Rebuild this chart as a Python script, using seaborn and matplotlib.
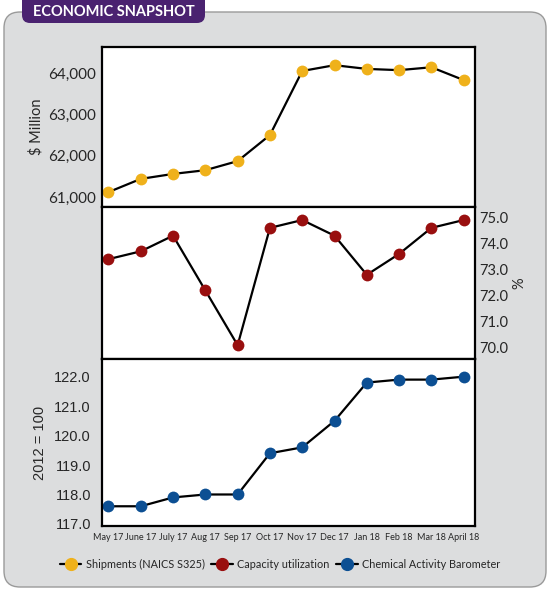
import numpy as np
import matplotlib
matplotlib.use("Agg")
import matplotlib.pyplot as plt
import matplotlib.patches as mpatches
from matplotlib.lines import Line2D
from matplotlib.ticker import FuncFormatter
import seaborn as sns

sns.set_style("white")
plt.rcParams['font.family'] = ['Lato', 'DejaVu Sans']

# data
months = ["May 17", "June 17", "July 17", "Aug 17", "Sep 17", "Oct 17",
          "Nov 17", "Dec 17", "Jan 18", "Feb 18", "Mar 18", "April 18"]
shipments = [61120, 61440, 61560, 61650, 61870, 62500,
             64050, 64190, 64100, 64070, 64140, 63830]
capacity = [73.4, 73.7, 74.3, 72.2, 70.1, 74.6,
            74.9, 74.3, 72.8, 73.6, 74.6, 74.9]
cab = [117.6, 117.6, 117.9, 118.0, 118.0, 119.4,
       119.6, 120.5, 121.8, 121.9, 121.9, 122.0]
ship_ticks = [61000, 62000, 63000, 64000]
cap_ticks = [70.0, 71.0, 72.0, 73.0, 74.0, 75.0]
cab_ticks = [117.0, 118.0, 119.0, 120.0, 121.0, 122.0]

YELLOW = "#EFB11B"
RED = "#990F0F"
BLUE = "#0C4F93"
PURPLE = "#4A2270"
GRAY = "#DCDDDE"

W, H = 550, 590
fig = plt.figure(figsize=(W / 100, H / 100), dpi=100)
fig.patch.set_facecolor("white")

# rounded gray panel (behind the axes)
box = mpatches.FancyBboxPatch((0.04, 0.03), 5.42, 5.75,
                              boxstyle="round,pad=0,rounding_size=0.16",
                              transform=fig.dpi_scale_trans, zorder=-10,
                              facecolor=GRAY, edgecolor="#9a9a9a", linewidth=1.0)
fig.patches.append(box)
# header tab
tab = mpatches.FancyBboxPatch((0.22, 5.67), 1.83, 0.35,
                              boxstyle="round,pad=0,rounding_size=0.08",
                              transform=fig.dpi_scale_trans, zorder=-5,
                              facecolor=PURPLE, edgecolor="none")
fig.patches.append(tab)
fig.text(1.135 / 5.5, 1 - 11.5 / H, "ECONOMIC SNAPSHOT", color="white",
         fontsize=10.5, fontweight="bold", ha="center", va="center")


def rect(l, t, r, b):
    return [l / W, 1 - b / H, (r - l) / W, (b - t) / H]


x = np.arange(len(months))
ax1 = fig.add_axes(rect(102, 47, 475, 207))
ax2 = fig.add_axes(rect(102, 207, 475, 359))
ax3 = fig.add_axes(rect(102, 359, 475, 526))

series = [(ax1, shipments, YELLOW), (ax2, capacity, RED), (ax3, cab, BLUE)]
for ax, vals, col in series:
    ax.set_facecolor("white")
    sns.lineplot(x=x, y=vals, ax=ax, color="black", linewidth=1.6,
                 marker="o", markersize=8.5, markerfacecolor=col,
                 markeredgecolor=col, markeredgewidth=0)
    ax.set_xlim(-0.2, 11.35)
    ax.set_xticks(x)
    for s in ax.spines.values():
        s.set_linewidth(1.6)
        s.set_color("black")
    ax.tick_params(length=0)

ax1.set_ylim(60760, 64630)
ax1.set_yticks(ship_ticks)
ax1.yaxis.set_major_formatter(FuncFormatter(lambda v, p: f"{v:,.0f}"))
ax1.tick_params(axis="y", labelsize=11, pad=4)
ax1.set_xticklabels([])
ax1.set_ylabel(r"\$ Million", fontsize=10.5, labelpad=4)

ax2.set_ylim(69.57, 75.4)
ax2.set_yticks(cap_ticks)
ax2.yaxis.tick_right()
ax2.yaxis.set_label_position("right")
ax2.yaxis.set_major_formatter(FuncFormatter(lambda v, p: f"{v:.1f}"))
ax2.tick_params(axis="y", labelsize=10.5, pad=3)
ax2.set_xticklabels([])
ax2.set_ylabel("%", fontsize=10.5, labelpad=3)

ax3.set_ylim(116.93, 122.6)
ax3.set_yticks(cab_ticks)
ax3.yaxis.set_major_formatter(FuncFormatter(lambda v, p: f"{v:.1f}"))
for lab in ax3.get_yticklabels():
    lab.set_family("Liberation Sans")
ax3.tick_params(axis="y", labelsize=10.5, pad=8)
ax3.set_ylabel("2012 = 100", fontsize=10.5, family="Liberation Sans", labelpad=5)
ax3.set_xticklabels(months, fontsize=6.5)
ax3.tick_params(axis="x", pad=5)
ax3.set_xlabel("")

handles = [Line2D([0], [0], color="black", linewidth=1.6, marker="o",
                  markersize=8.5, markerfacecolor=c, markeredgecolor=c)
           for c in (YELLOW, RED, BLUE)]
labels = ["Shipments (NAICS S325)", "Capacity utilization",
          "Chemical Activity Barometer"]
fig.legend(handles, labels, loc="center", bbox_to_anchor=(280 / W, 1 - 564 / H),
           ncol=3, frameon=False, fontsize=7.8, handlelength=2.0,
           handletextpad=0.4, columnspacing=0.6)

fig.savefig("out.png", dpi=100, facecolor=fig.get_facecolor())
